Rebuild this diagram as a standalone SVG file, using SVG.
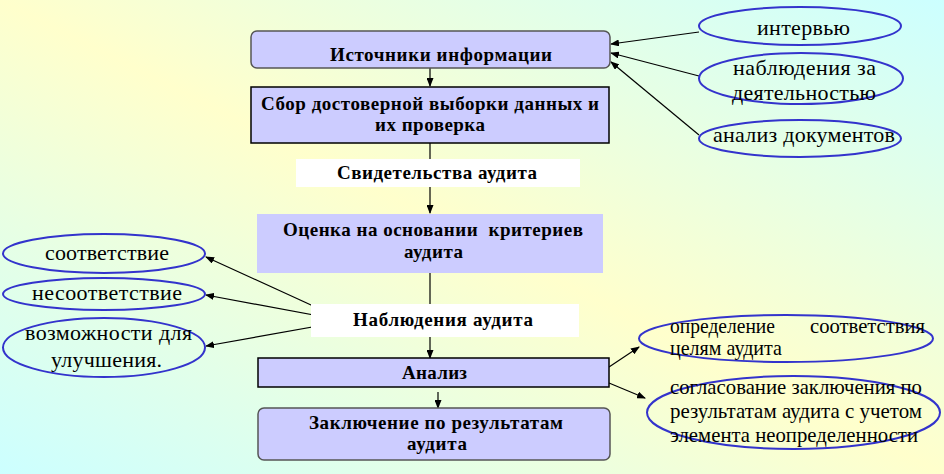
<svg xmlns="http://www.w3.org/2000/svg" width="944" height="474" viewBox="0 0 944 474">
<defs>
<linearGradient id="bg" x1="0" y1="1" x2="1" y2="0">
<stop offset="0" stop-color="#CCFFFF"/>
<stop offset="0.5" stop-color="#FFFFCC"/>
<stop offset="1" stop-color="#CCFFFF"/>
</linearGradient>
<marker id="ah" markerUnits="userSpaceOnUse" markerWidth="9" markerHeight="7" refX="8" refY="3.5" orient="auto">
<path d="M0,0 L9,3.5 L0,7 z" fill="#000"/>
</marker>
<style>
.box{fill:#CCCCFF}
.bk{stroke:#000;stroke-width:1.5}
.gr{stroke:#555;stroke-width:1.5}
.lab{fill:#FFFFFF}
.ell{fill:none;stroke:#3333CC;stroke-width:2}
text{font-family:'Liberation Serif','DejaVu Serif',serif;fill:#000}
.b{font-weight:bold;font-size:19px}
.r{font-size:22px}
.s{font-size:21px}
.c{stroke:#000;stroke-width:1.2;fill:none}
.ca{stroke:#000;stroke-width:1.2;fill:none;marker-end:url(#ah)}
</style>
</defs>
<rect x="0" y="0" width="944" height="474" fill="url(#bg)"/>

<g id="connectors">
<line class="ca" x1="430" y1="68" x2="430" y2="86"/>
<line class="c" x1="430" y1="143" x2="430" y2="159"/>
<line class="ca" x1="430" y1="187" x2="430" y2="213"/>
<line class="c" x1="430" y1="273" x2="430" y2="304"/>
<line class="ca" x1="430" y1="337" x2="430" y2="358"/>
<line class="ca" x1="438" y1="392" x2="438" y2="408"/>
<line class="ca" x1="699" y1="32" x2="611" y2="44"/>
<line class="ca" x1="699" y1="76" x2="611" y2="53"/>
<line class="ca" x1="699" y1="135" x2="611" y2="62"/>
<line class="ca" x1="346" y1="321" x2="206" y2="257"/>
<line class="ca" x1="346" y1="321" x2="206" y2="295"/>
<line class="ca" x1="346" y1="321" x2="206" y2="346"/>
<line class="ca" x1="609" y1="367" x2="639" y2="347"/>
<line class="ca" x1="609" y1="383" x2="645" y2="398"/>
</g>

<g id="n-sources">
<rect class="box gr" x="251" y="31" width="359" height="37" rx="6"/>
<text class="b" x="330" y="61" textLength="222" lengthAdjust="spacing">Источники информации</text>
</g>

<g id="n-collect">
<rect class="box bk" x="251" y="87" width="358" height="56"/>
<text class="b" x="261" y="110" textLength="338" lengthAdjust="spacing">Сбор достоверной выборки данных и</text>
<text class="b" x="375" y="131" textLength="110" lengthAdjust="spacing">их проверка</text>
</g>

<g id="n-evidence">
<rect class="lab" x="296" y="159" width="284" height="28"/>
<text class="b" x="337" y="179" textLength="200" lengthAdjust="spacing">Свидетельства аудита</text>
</g>

<g id="n-evaluate">
<rect class="box" x="257" y="214" width="346" height="59"/>
<text class="b" x="283" y="236" textLength="300" lengthAdjust="spacing" xml:space="preserve" style="white-space:pre">Оценка на основании  критериев</text>
<text class="b" x="404" y="258" textLength="59" lengthAdjust="spacing">аудита</text>
</g>

<g id="n-findings">
<rect class="lab" x="311" y="304" width="268" height="33"/>
<text class="b" x="353" y="326" textLength="180" lengthAdjust="spacing">Наблюдения аудита</text>
</g>

<g id="n-analysis">
<rect class="box bk" x="258" y="358" width="351" height="29"/>
<text class="b" x="402" y="379" textLength="65" lengthAdjust="spacing">Анализ</text>
</g>

<g id="n-conclusion">
<rect class="box gr" x="258" y="408" width="352" height="52" rx="6"/>
<text class="b" x="309" y="429" textLength="254" lengthAdjust="spacing">Заключение по результатам</text>
<text class="b" x="407" y="450" textLength="60" lengthAdjust="spacing">аудита</text>
</g>

<g id="e-interview">
<ellipse class="ell" cx="800" cy="26" rx="101" ry="19"/>
<text class="r" x="757" y="35" textLength="93" lengthAdjust="spacing">интервью</text>
</g>

<g id="e-observe">
<ellipse class="ell" cx="801" cy="78.5" rx="102" ry="25.5"/>
<text class="r" x="733" y="75" textLength="143" lengthAdjust="spacing">наблюдения за</text>
<text class="r" x="732" y="100" textLength="144" lengthAdjust="spacing">деятельностью</text>
</g>

<g id="e-docs">
<ellipse class="ell" cx="800" cy="138.5" rx="101" ry="18.5"/>
<text class="r" x="713" y="142" textLength="182" lengthAdjust="spacing">анализ документов</text>
</g>

<g id="e-conform">
<ellipse class="ell" cx="104" cy="253.5" rx="101" ry="19.5"/>
<text class="r" x="45" y="260" textLength="124" lengthAdjust="spacing">соответствие</text>
</g>

<g id="e-nonconform">
<ellipse class="ell" cx="104" cy="294" rx="101" ry="16"/>
<text class="r" x="32" y="300" textLength="150" lengthAdjust="spacing">несоответствие</text>
</g>

<g id="e-improve">
<ellipse class="ell" cx="104" cy="347.5" rx="101" ry="29.5"/>
<text class="r" x="25" y="340" textLength="167" lengthAdjust="spacing">возможности для</text>
<text class="r" x="51" y="367" textLength="111" lengthAdjust="spacing">улучшения.</text>
</g>

<g id="e-goals">
<ellipse class="ell" cx="786" cy="338.5" rx="147" ry="23.5"/>
<text class="s" x="670" y="333" textLength="105" lengthAdjust="spacingAndGlyphs">определение</text>
<text class="s" x="810" y="333" textLength="115" lengthAdjust="spacingAndGlyphs">соответствия</text>
<text class="s" x="670" y="355" textLength="112" lengthAdjust="spacingAndGlyphs">целям аудита</text>
</g>

<g id="e-agree">
<ellipse class="ell" cx="793.5" cy="412.5" rx="146.5" ry="36.5"/>
<text class="s" x="670" y="394" textLength="252" lengthAdjust="spacingAndGlyphs">согласование заключения по</text>
<text class="s" x="670" y="418" textLength="252" lengthAdjust="spacingAndGlyphs">результатам аудита с учетом</text>
<text class="s" x="670" y="442" textLength="248" lengthAdjust="spacingAndGlyphs">элемента неопределенности</text>
</g>
</svg>
